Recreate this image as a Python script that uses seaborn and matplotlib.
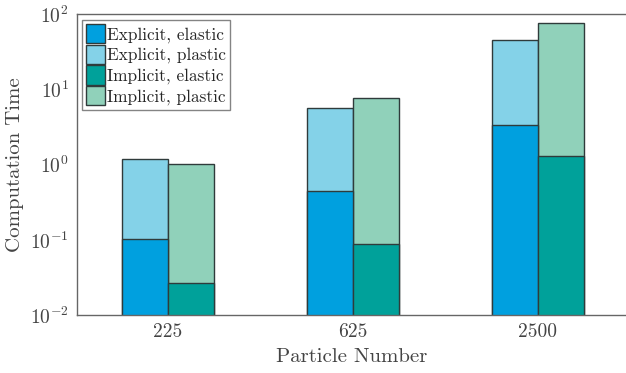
import matplotlib
matplotlib.use('Agg')
import matplotlib.pyplot as plt
import matplotlib.patches as mpatches
import seaborn as sns
import pandas as pd

# ── data ────────────────────────────────────────────────────────────────────
PARTICLES = ['225', '625', '2500']
METHODS   = ['Explicit', 'Implicit']

explicit_elastic = [0.102, 0.45, 3.4]
explicit_plastic = [1.20, 5.75, 45.0]
implicit_elastic = [0.027, 0.089, 1.29]
implicit_plastic = [1.03, 7.6, 77.0]

COL_EXP_EL = '#00a0df'
COL_EXP_PL = '#84d2e8'
COL_IMP_EL = '#00a19a'
COL_IMP_PL = '#90d1ba'
EDGE       = '#2f3b3b'

df = pd.DataFrame({
    'Particle Number': PARTICLES * 2,
    'Method':  ['Explicit'] * 3 + ['Implicit'] * 3,
    'elastic': explicit_elastic + implicit_elastic,
    'plastic': explicit_plastic + implicit_plastic,
})

sns.set_style('white')
plt.rcParams['font.family'] = ['cmr10', 'DejaVu Serif']
plt.rcParams['mathtext.fontset'] = 'cm'
plt.rcParams['axes.formatter.use_mathtext'] = True
plt.rcParams['axes.unicode_minus'] = False

fig = plt.figure(figsize=(6.26, 3.73), dpi=100)
ax = fig.add_axes([0.123, 0.1555, 0.877, 0.806])

# plastic runs first (taller), elastic drawn over the lower part
sns.barplot(data=df, x='Particle Number', y='plastic', hue='Method',
            hue_order=METHODS, order=PARTICLES,
            palette={'Explicit': COL_EXP_PL, 'Implicit': COL_IMP_PL},
            width=0.5, edgecolor=EDGE, linewidth=1.0, saturation=1,
            legend=False, ax=ax)
sns.barplot(data=df, x='Particle Number', y='elastic', hue='Method',
            hue_order=METHODS, order=PARTICLES,
            palette={'Explicit': COL_EXP_EL, 'Implicit': COL_IMP_EL},
            width=0.5, edgecolor=EDGE, linewidth=1.0, saturation=1,
            legend=False, ax=ax)

ax.set_yscale('log')
ax.set_ylim(1e-2, 1e2)
ax.set_xlim(-0.492, 2.476)

ax.set_xlabel('Particle Number', fontsize=15, color='#444444', labelpad=5)
ax.set_ylabel('Computation Time', fontsize=15, color='#444444', labelpad=4)
ax.tick_params(axis='both', which='both', length=0, labelsize=14,
               colors='#444444', pad=6)
ax.minorticks_off()

for side in ['left', 'bottom', 'top']:
    ax.spines[side].set_color('#666666')
    ax.spines[side].set_linewidth(1.0)
ax.spines['right'].set_visible(False)

handles = [
    mpatches.Patch(facecolor=COL_EXP_EL, edgecolor=EDGE, label='Explicit, elastic'),
    mpatches.Patch(facecolor=COL_EXP_PL, edgecolor=EDGE, label='Explicit, plastic'),
    mpatches.Patch(facecolor=COL_IMP_EL, edgecolor=EDGE, label='Implicit, elastic'),
    mpatches.Patch(facecolor=COL_IMP_PL, edgecolor=EDGE, label='Implicit, plastic'),
]
leg = ax.legend(handles=handles, loc='upper left', fontsize=12.4,
                frameon=True, fancybox=False, handlelength=1.1,
                handleheight=1.35, handletextpad=0.1, labelspacing=0.08,
                borderpad=0.25, borderaxespad=0.3)
leg.get_frame().set_edgecolor('#666666')
leg.get_frame().set_linewidth(1.0)

fig.savefig('out.png', dpi=100)
